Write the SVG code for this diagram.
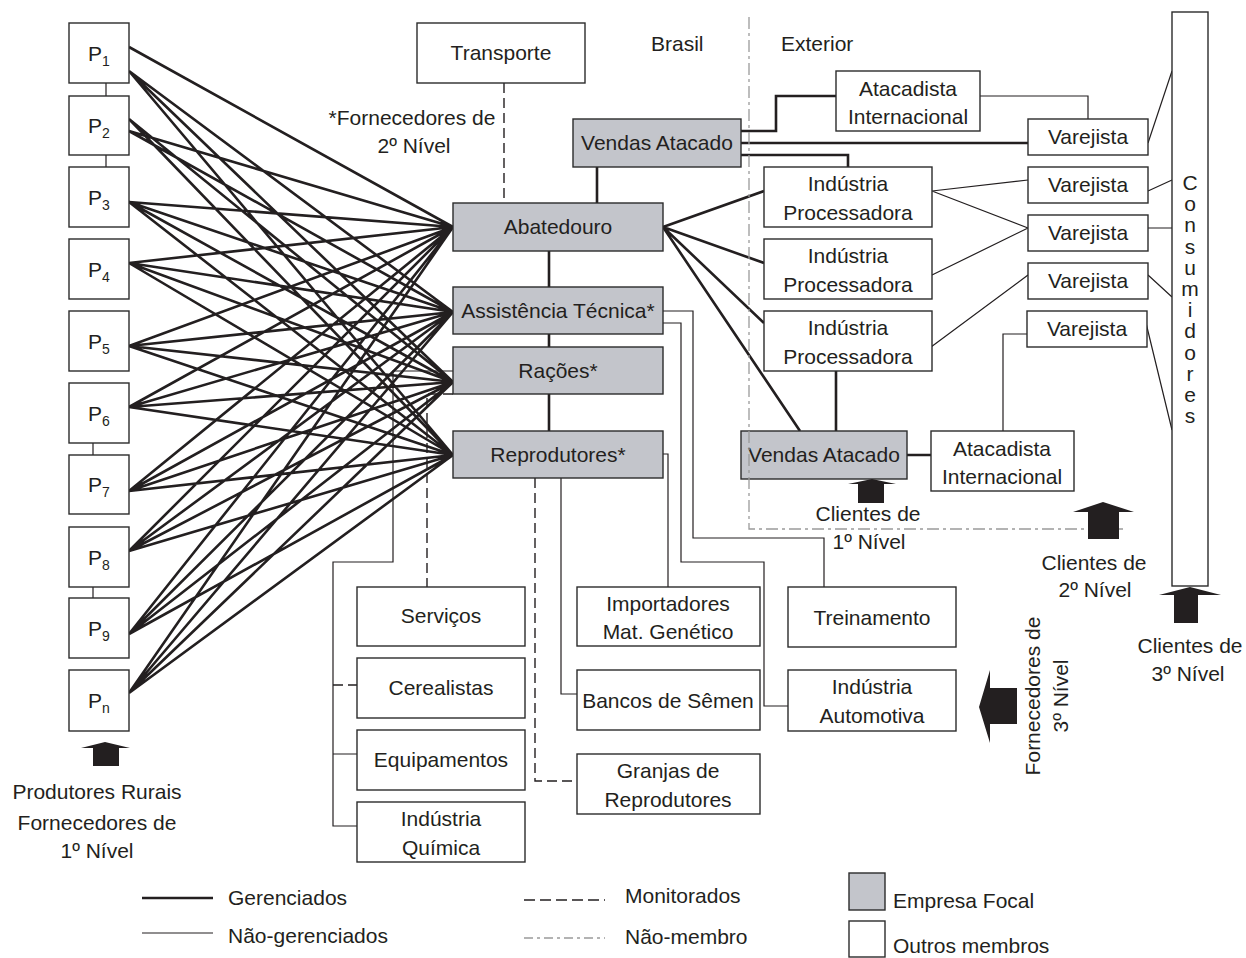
<svg xmlns="http://www.w3.org/2000/svg" width="1246" height="958" viewBox="0 0 1246 958">
<style>
text{font-family:"Liberation Sans",Arial,sans-serif;font-size:21px;fill:#231f20}
.c{text-anchor:middle}
.box{fill:#fff;stroke:#2b2b2b;stroke-width:1.4}
.focal{fill:#c3c5cb;stroke:#2b2b2b;stroke-width:1.4}
.thick{fill:none;stroke:#231f20;stroke-width:2.6}
.thin{fill:none;stroke:#231f20;stroke-width:1.2}
.dash{fill:none;stroke:#231f20;stroke-width:1.4;stroke-dasharray:10 5}
.nm{fill:none;stroke:#9a9a9a;stroke-width:1.3;stroke-dasharray:12 4 3 4}
.arrow{fill:#231f20}
</style>
<rect width="1246" height="958" fill="#fff"/>

<g id="connectors">
  <!-- producer chain -->
  <path class="thin" d="M106,83V96M106,155V167M93,443V455M93,587V598"/>
  <!-- producers to focal company -->
  <path class="thick" d="M129,47L453,227M129,71L453,312M129,71L453,382M129,71L453,455
  M129,119L453,382M129,119L453,455M129,131L453,227M129,131L453,312
  M129,202L453,227M129,202L453,312M129,202L453,382M129,202L453,455
  M129,263L453,227M129,263L453,312M129,263L453,382M129,263L453,455
  M129,346L453,227M129,346L453,312M129,346L453,382M129,346L453,455
  M129,407L453,227M129,407L453,312M129,407L453,382M129,407L453,455
  M129,491L453,227M129,491L453,312M129,491L453,382M129,491L453,455
  M129,551L453,227M129,551L453,312M129,551L453,382M129,551L453,455
  M129,634L453,227M129,634L453,312M129,634L453,382M129,634L453,455
  M129,693L453,227M129,693L453,312M129,693L453,382M129,693L453,455"/>
  <!-- focal vertical chain -->
  <path class="thick" d="M549,251V287M549,334V347M549,394V431M597,167V203"/>
  <!-- transporte -->
  <path class="dash" d="M504,83V203"/>
  <!-- abatedouro to industries -->
  <path class="thick" d="M663,227L764,191M663,227L764,263M663,227L764,323M663,227L800,431M836,371V431M907,455H931"/>
  <!-- vendas atacado top -->
  <path class="thick" d="M741,131H776V96H836M741,143H1028M741,155H848V167"/>
  <!-- retail thin -->
  <path class="thin" d="M980,96H1088V119M1148,143L1172,71M932,191L1028,180M932,191L1028,228M932,275L1028,228M931,347L1028,275M1148,191L1172,180M1148,228H1172M1148,275L1172,297M1146,323L1172,430M1003,431V334H1028"/>
  <!-- assistencia / reprodutores -->
  <path class="thin" d="M663,311H693V538H824V587M663,323H681V562H764V706H788M663,454H668V587M561,478V694H577"/>
  <path class="dash" d="M535,478V781H577"/>
  <!-- racoes tree -->
  <path class="thin" d="M453,371H393V562H333V826H357M333,754H357"/>
  <path class="dash" d="M453,394H427V587M333,685H357"/>
</g>

<g id="transporte"><rect class="box" x="417" y="23" width="168" height="60"/><text class="c" x="501" y="60">Transporte</text></g>

<g id="p1"><rect class="box" x="69" y="23" width="60" height="60"/><text class="c" x="99" y="61">P<tspan font-size="14" dy="5">1</tspan></text></g>
<g id="p2"><rect class="box" x="69" y="96" width="60" height="59"/><text class="c" x="99" y="133">P<tspan font-size="14" dy="5">2</tspan></text></g>
<g id="p3"><rect class="box" x="69" y="167" width="60" height="60"/><text class="c" x="99" y="205">P<tspan font-size="14" dy="5">3</tspan></text></g>
<g id="p4"><rect class="box" x="69" y="239" width="60" height="60"/><text class="c" x="99" y="277">P<tspan font-size="14" dy="5">4</tspan></text></g>
<g id="p5"><rect class="box" x="69" y="311" width="60" height="60"/><text class="c" x="99" y="349">P<tspan font-size="14" dy="5">5</tspan></text></g>
<g id="p6"><rect class="box" x="69" y="383" width="60" height="60"/><text class="c" x="99" y="421">P<tspan font-size="14" dy="5">6</tspan></text></g>
<g id="p7"><rect class="box" x="69" y="455" width="60" height="59"/><text class="c" x="99" y="492">P<tspan font-size="14" dy="5">7</tspan></text></g>
<g id="p8"><rect class="box" x="69" y="527" width="60" height="60"/><text class="c" x="99" y="565">P<tspan font-size="14" dy="5">8</tspan></text></g>
<g id="p9"><rect class="box" x="69" y="598" width="60" height="60"/><text class="c" x="99" y="636">P<tspan font-size="14" dy="5">9</tspan></text></g>
<g id="pn"><rect class="box" x="69" y="670" width="60" height="61"/><text class="c" x="99" y="708">P<tspan font-size="14" dy="5">n</tspan></text></g>

<g id="abatedouro"><rect class="focal" x="453" y="203" width="210" height="48"/><text class="c" x="558" y="234">Abatedouro</text></g>
<g id="assistencia"><rect class="focal" x="453" y="287" width="210" height="47"/><text class="c" x="558" y="318">Assistência Técnica*</text></g>
<g id="racoes"><rect class="focal" x="453" y="347" width="210" height="47"/><text class="c" x="558" y="378">Rações*</text></g>
<g id="reprodutores"><rect class="focal" x="453" y="431" width="210" height="47"/><text class="c" x="558" y="462">Reprodutores*</text></g>
<g id="vendas1"><rect class="focal" x="573" y="119" width="168" height="48"/><text class="c" x="657" y="150">Vendas Atacado</text></g>
<g id="vendas2"><rect class="focal" x="741" y="431" width="166" height="48"/><text class="c" x="824" y="462">Vendas Atacado</text></g>

<g id="atacadista1"><rect class="box" x="836" y="71" width="144" height="60"/><text class="c" x="908" y="96">Atacadista</text><text class="c" x="908" y="124">Internacional</text></g>
<g id="atacadista2"><rect class="box" x="931" y="431" width="143" height="60"/><text class="c" x="1002" y="456">Atacadista</text><text class="c" x="1002" y="484">Internacional</text></g>

<g id="ind1"><rect class="box" x="764" y="167" width="168" height="60"/><text class="c" x="848" y="191">Indústria</text><text class="c" x="848" y="220">Processadora</text></g>
<g id="ind2"><rect class="box" x="764" y="239" width="168" height="60"/><text class="c" x="848" y="263">Indústria</text><text class="c" x="848" y="292">Processadora</text></g>
<g id="ind3"><rect class="box" x="764" y="311" width="168" height="60"/><text class="c" x="848" y="335">Indústria</text><text class="c" x="848" y="364">Processadora</text></g>

<g id="var1"><rect class="box" x="1028" y="119" width="120" height="36"/><text class="c" x="1088" y="144">Varejista</text></g>
<g id="var2"><rect class="box" x="1028" y="167" width="120" height="36"/><text class="c" x="1088" y="192">Varejista</text></g>
<g id="var3"><rect class="box" x="1028" y="215" width="120" height="36"/><text class="c" x="1088" y="240">Varejista</text></g>
<g id="var4"><rect class="box" x="1028" y="263" width="120" height="36"/><text class="c" x="1088" y="288">Varejista</text></g>
<g id="var5"><rect class="box" x="1027" y="311" width="120" height="36"/><text class="c" x="1087" y="336">Varejista</text></g>

<g id="consumidores"><rect class="box" x="1172" y="12" width="36" height="574"/>
<text class="c" x="1190" y="190">C</text><text class="c" x="1190" y="211">o</text><text class="c" x="1190" y="232">n</text><text class="c" x="1190" y="254">s</text><text class="c" x="1190" y="275">u</text><text class="c" x="1190" y="296">m</text><text class="c" x="1190" y="317">i</text><text class="c" x="1190" y="338">d</text><text class="c" x="1190" y="360">o</text><text class="c" x="1190" y="381">r</text><text class="c" x="1190" y="402">e</text><text class="c" x="1190" y="423">s</text>
</g>

<g id="servicos"><rect class="box" x="357" y="587" width="168" height="59"/><text class="c" x="441" y="623">Serviços</text></g>
<g id="cerealistas"><rect class="box" x="357" y="658" width="168" height="60"/><text class="c" x="441" y="695">Cerealistas</text></g>
<g id="equipamentos"><rect class="box" x="357" y="730" width="168" height="60"/><text class="c" x="441" y="767">Equipamentos</text></g>
<g id="quimica"><rect class="box" x="357" y="802" width="168" height="60"/><text class="c" x="441" y="826">Indústria</text><text class="c" x="441" y="855">Química</text></g>

<g id="importadores"><rect class="box" x="577" y="587" width="183" height="59"/><text class="c" x="668" y="611">Importadores</text><text class="c" x="668" y="639">Mat. Genético</text></g>
<g id="bancos"><rect class="box" x="577" y="670" width="183" height="60"/><text class="c" x="668" y="708">Bancos de Sêmen</text></g>
<g id="granjas"><rect class="box" x="577" y="754" width="183" height="60"/><text class="c" x="668" y="778">Granjas de</text><text class="c" x="668" y="807">Reprodutores</text></g>

<g id="treinamento"><rect class="box" x="788" y="587" width="168" height="60"/><text class="c" x="872" y="625">Treinamento</text></g>
<g id="automotiva"><rect class="box" x="788" y="670" width="168" height="61"/><text class="c" x="872" y="694">Indústria</text><text class="c" x="872" y="723">Automotiva</text></g>

<!-- non-member boundary -->
<path class="nm" d="M749,17V529H1127"/>

<!-- labels -->
<text x="651" y="51">Brasil</text>
<text x="781" y="51">Exterior</text>
<text class="c" x="412" y="125">*Fornecedores de</text>
<text class="c" x="414" y="153">2º Nível</text>

<!-- block arrows -->
<polygon class="arrow" points="81,748 105,742 130,748 119,748 119,766 93,766 93,748"/>
<polygon class="arrow" points="848,484 872,479 896,484 884,484 884,503 858,503 858,484"/>
<polygon class="arrow" points="1073,512 1103,502 1134,512 1119,512 1119,539 1088,539 1088,512"/>
<polygon class="arrow" points="1159,595 1190,587 1221,595 1198,595 1198,623 1174,623 1174,595"/>
<polygon class="arrow" points="990,670 979,707 990,743 990,724 1017,724 1017,688 990,688"/>

<text class="c" x="97" y="799">Produtores Rurais</text>
<text class="c" x="97" y="830">Fornecedores de</text>
<text class="c" x="97" y="858">1º Nível</text>
<text class="c" x="868" y="521">Clientes de</text>
<text class="c" x="869" y="549">1º Nível</text>
<text class="c" x="1094" y="570">Clientes de</text>
<text class="c" x="1095" y="597">2º Nível</text>
<text class="c" x="1190" y="653">Clientes de</text>
<text class="c" x="1188" y="681">3º Nível</text>
<text class="c" transform="translate(1040,696) rotate(-90)">Fornecedores de</text>
<text class="c" transform="translate(1068,696) rotate(-90)">3º Nível</text>

<!-- legend -->
<g id="legend">
  <path class="thick" d="M142,898H213"/>
  <path class="thin" d="M142,933H213"/>
  <path class="dash" d="M524,900H605" style="stroke-dasharray:11 5"/>
  <path class="nm" d="M524,938H605" style="stroke-dasharray:9 4 3 4"/>
  <text x="228" y="905">Gerenciados</text>
  <text x="228" y="943">Não-gerenciados</text>
  <text x="625" y="903">Monitorados</text>
  <text x="625" y="944">Não-membro</text>
  <rect class="focal" x="849" y="873" width="36" height="37"/>
  <rect class="box" x="849" y="921" width="36" height="36"/>
  <text x="893" y="908">Empresa Focal</text>
  <text x="893" y="953">Outros membros</text>
</g>
</svg>
